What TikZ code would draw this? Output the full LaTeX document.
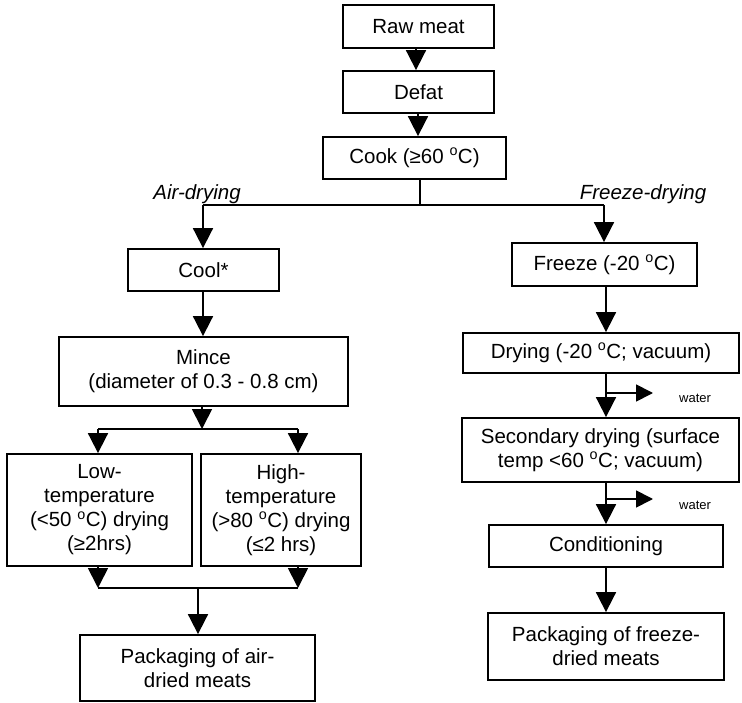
\documentclass[tikz,border=0pt]{standalone}
\usepackage{fontspec}
\setmainfont{Liberation Sans}
\usetikzlibrary{arrows.meta}
\newcommand{\degC}{\textsuperscript{o}C}
\begin{document}
\begin{tikzpicture}[x=1pt,y=-1pt,
  line width=1.8pt,
  font=\fontsize{20.5}{24}\selectfont,
  stepbox/.style={draw, rectangle, inner sep=0pt, align=center},
  flow/.style={-{Triangle[length=20pt,width=20pt]}},
  vent/.style={-{Triangle[length=17pt,width=17pt]}},
  routelabel/.style={font=\fontsize{20.5}{24}\selectfont\itshape},
  smalltext/.style={font=\fontsize{13}{15}\selectfont}]
\useasboundingbox[fill=white] (0,0) rectangle (742,703);

% process steps
\node[stepbox, minimum width=151pt, minimum height=43pt] (raw) at (418.5,26.5) {Raw meat};
\node[stepbox, minimum width=151pt, minimum height=42pt] (defat) at (418.5,92) {Defat};
\node[stepbox, minimum width=183pt, minimum height=42pt] (cook) at (414.5,158) {Cook (≥60 \degC)};

% air-drying branch
\node[stepbox, minimum width=151pt, minimum height=42pt] (cool) at (203.5,270) {Cool*};
\node[stepbox, minimum width=289pt, minimum height=69pt] (mince) at (203.5,371.5) {Mince\\(diameter of 0.3 - 0.8 cm)};
\node[stepbox, minimum width=185pt, minimum height=112pt] (low) at (99.5,510) {Low-\\temperature\\(<50 \degC) drying\\(≥2hrs)};
\node[stepbox, minimum width=160pt, minimum height=112pt] (high) at (281,510) {High-\\temperature\\(>80 \degC) drying\\(≤2 hrs)};
\node[stepbox, minimum width=235pt, minimum height=66pt] (packair) at (197.5,668) {Packaging of air-\\dried meats};

% freeze-drying branch
\node[stepbox, minimum width=185pt, minimum height=43pt] (freeze) at (604.5,264.5) {Freeze (-20 \degC)};
\node[stepbox, minimum width=276pt, minimum height=40pt] (drying) at (601,353) {Drying (-20 \degC; vacuum)};
\node[stepbox, minimum width=277pt, minimum height=64pt] (secondary) at (600.5,450) {Secondary drying (surface\\temp <60 \degC; vacuum)};
\node[stepbox, minimum width=234pt, minimum height=42pt] (cond) at (606,546) {Conditioning};
\node[stepbox, minimum width=236pt, minimum height=67pt] (packfreeze) at (606,646.5) {Packaging of freeze-\\dried meats};

% route labels
\node[routelabel, anchor=base] (airlabel) at (197,200) {Air-drying};
\node[routelabel, anchor=base] (freezelabel) at (643,200) {Freeze-drying};

% junction points
\coordinate (split) at (420,205);
\coordinate (splitL) at (203,205);
\coordinate (splitR) at (604,205);
\coordinate (mincesplit) at (202,429);
\coordinate (msL) at (98,429);
\coordinate (msR) at (298,429);
\coordinate (joinL) at (98,588);
\coordinate (joinR) at (298,588);
\coordinate (join) at (198,588);
\coordinate (w1) at (606,393);
\coordinate (w1end) at (653,393);
\coordinate (w2) at (606,499);
\coordinate (w2end) at (653,499);

% main line
\draw[flow] (raw.south -| 416,0) -- (defat.north -| 416,0);
\draw[flow] (defat.south -| 418,0) -- (cook.north -| 418,0);
\draw (cook.south -| split) -- (split);
\draw (splitL) -- (splitR);
\draw[flow] (splitL) -- (cool.north -| splitL);
\draw[flow] (splitR) -- (freeze.north -| splitR);

% air-drying connectors
\draw[flow] (cool.south -| splitL) -- (mince.north -| splitL);
\draw[flow] (mince.south -| mincesplit) -- (mincesplit);
\draw (msL) -- (msR);
\draw[flow] (msL) -- (low.north -| msL);
\draw[flow] (msR) -- (high.north -| msR);
\draw[flow] (low.south -| joinL) -- (joinL);
\draw[flow] (high.south -| joinR) -- (joinR);
\draw (joinL) -- (joinR);
\draw[flow] (join) -- (packair.north -| join);

% freeze-drying connectors
\draw[flow] (freeze.south -| w1) -- (drying.north -| w1);
\draw[flow] (drying.south -| w1) -- (secondary.north -| w1);
\draw[vent] (w1) -- (w1end);
\node[smalltext, anchor=west] (water1) at (675,398) {water};
\draw[flow] (secondary.south -| w2) -- (cond.north -| w2);
\draw[vent] (w2) -- (w2end);
\node[smalltext, anchor=west] (water2) at (675,505) {water};
\draw[flow] (cond.south -| w2) -- (packfreeze.north -| w2);
\end{tikzpicture}
\end{document}
